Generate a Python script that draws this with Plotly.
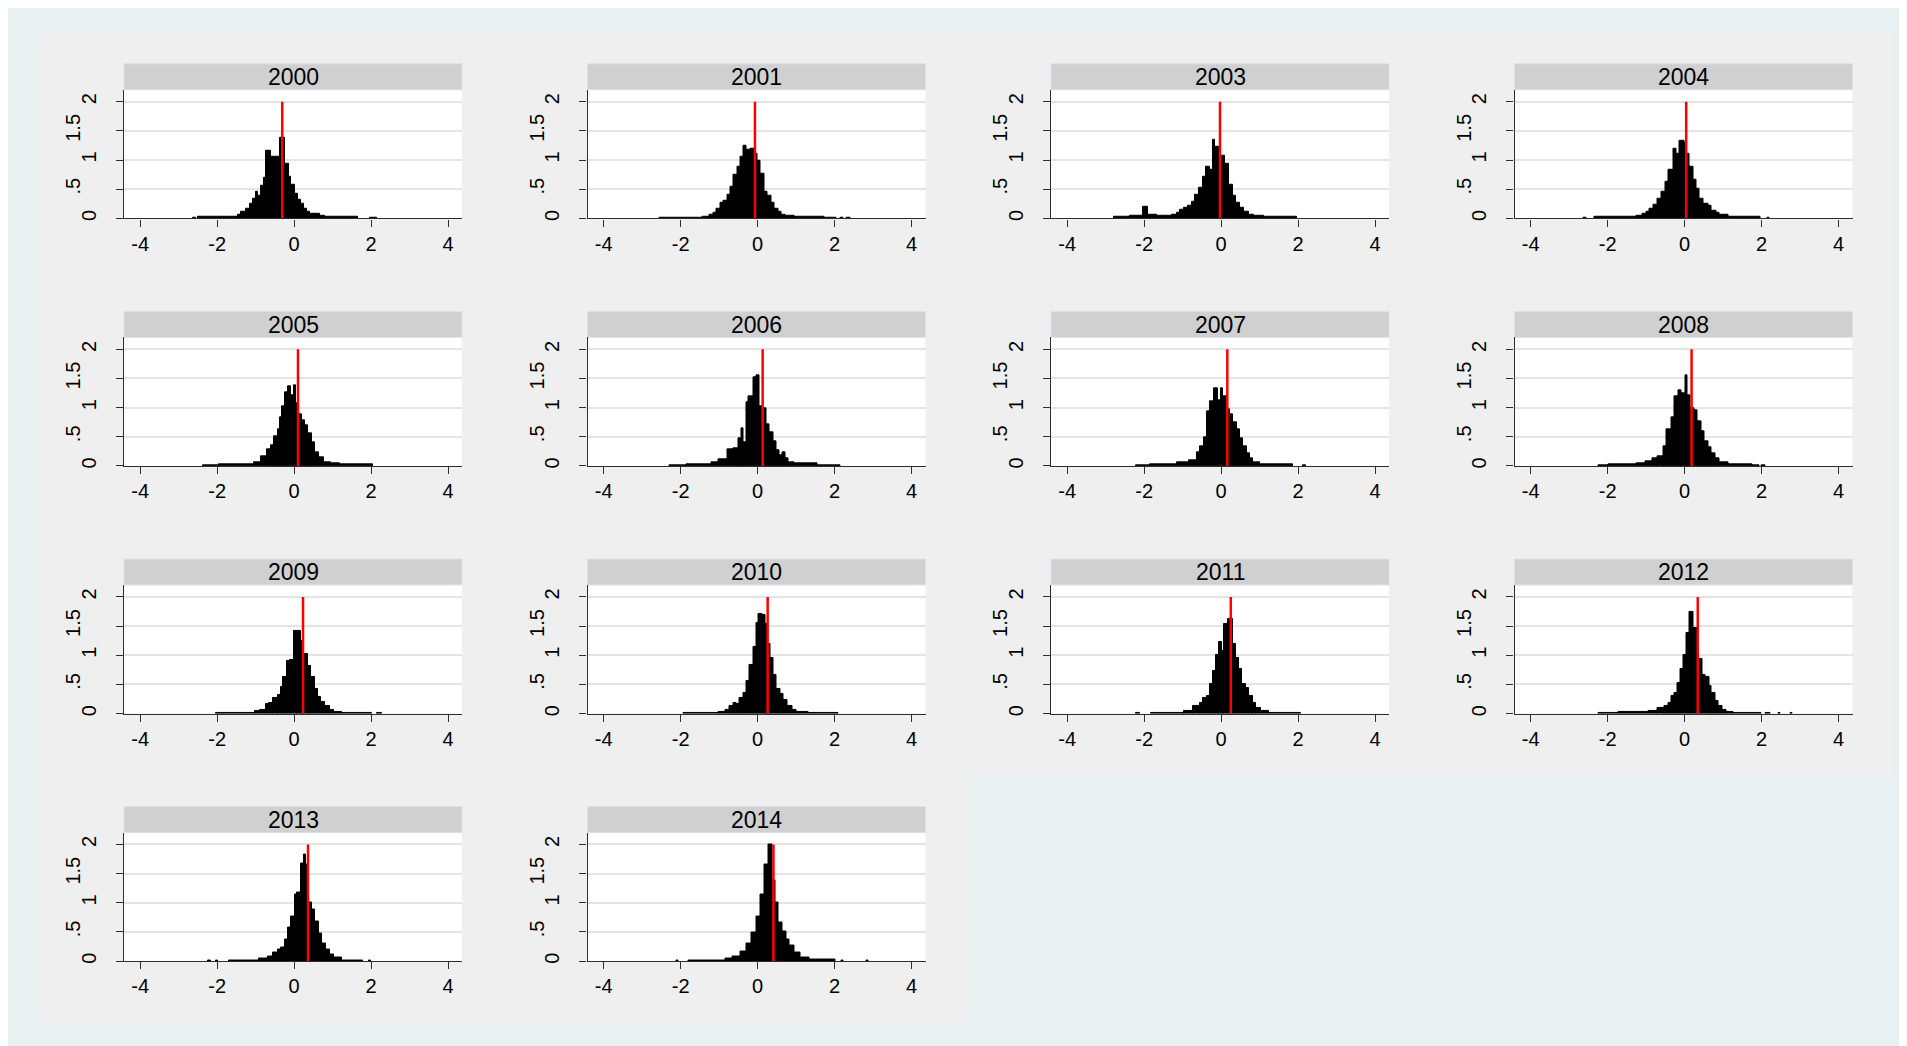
import plotly.graph_objects as go

# ---------------- data ----------------
years = ["2000", "2001", "2003", "2004", "2005", "2006", "2007",
         "2008", "2009", "2010", "2011", "2012", "2013", "2014"]

# histogram bins: (left edge, right edge, density)
bins_2000 = [(-2.62, -2.55, 0.012), (-2.49, -1.67, 0.02), (-1.67, -1.45, 0.03), (-1.45, -1.37, 0.06),
             (-1.37, -1.24, 0.11), (-1.24, -1.15, 0.17), (-1.15, -1.06, 0.25), (-1.06, -1.00, 0.33),
             (-1.00, -0.93, 0.45), (-0.93, -0.85, 0.38), (-0.85, -0.78, 0.56), (-0.78, -0.72, 0.69),
             (-0.72, -0.59, 1.16), (-0.59, -0.37, 1.05), (-0.37, -0.23, 1.39), (-0.23, -0.14, 0.93),
             (-0.14, -0.07, 0.72), (-0.07, 0.02, 0.57), (0.02, 0.09, 0.43), (0.09, 0.17, 0.32),
             (0.17, 0.25, 0.25), (0.25, 0.34, 0.17), (0.34, 0.42, 0.12), (0.42, 0.67, 0.085),
             (0.67, 0.80, 0.05), (0.80, 1.66, 0.02), (1.98, 2.14, 0.012)]
bins_2001 = [(-2.54, -1.44, 0.015), (-1.44, -1.26, 0.03), (-1.26, -1.14, 0.06), (-1.14, -1.06, 0.10),
             (-1.06, -0.96, 0.17), (-0.96, -0.88, 0.26), (-0.88, -0.78, 0.30), (-0.78, -0.70, 0.40),
             (-0.70, -0.62, 0.55), (-0.62, -0.53, 0.75), (-0.53, -0.45, 0.89), (-0.45, -0.36, 1.06),
             (-0.36, -0.28, 1.24), (-0.28, -0.18, 1.17), (-0.18, -0.08, 1.19), (-0.08, 0.00, 1.10),
             (0.00, 0.08, 0.99), (0.08, 0.18, 0.76), (0.18, 0.26, 0.45), (0.26, 0.36, 0.38),
             (0.36, 0.44, 0.26), (0.44, 0.54, 0.17), (0.54, 0.62, 0.11), (0.62, 0.72, 0.07),
             (0.72, 0.96, 0.045), (0.96, 1.74, 0.02), (1.74, 2.05, 0.012), (2.15, 2.22, 0.01),
             (2.32, 2.42, 0.01)]
bins_2003 = [(-2.78, -2.37, 0.02), (-2.37, -2.04, 0.045), (-2.04, -1.90, 0.20), (-1.90, -1.67, 0.06),
             (-1.67, -1.28, 0.05), (-1.28, -1.15, 0.07), (-1.15, -1.06, 0.10), (-1.06, -0.97, 0.14),
             (-0.97, -0.87, 0.18), (-0.87, -0.76, 0.22), (-0.76, -0.67, 0.29), (-0.67, -0.57, 0.41),
             (-0.57, -0.48, 0.53), (-0.48, -0.39, 0.72), (-0.39, -0.30, 0.89), (-0.30, -0.22, 0.83),
             (-0.22, -0.15, 1.34), (-0.15, -0.06, 1.22), (-0.06, 0.03, 0.83), (0.03, 0.11, 1.07),
             (0.11, 0.20, 0.93), (0.20, 0.30, 0.58), (0.30, 0.39, 0.39), (0.39, 0.48, 0.26),
             (0.48, 0.59, 0.19), (0.59, 0.72, 0.12), (0.72, 0.85, 0.07), (0.85, 1.11, 0.045),
             (1.11, 1.98, 0.02)]
bins_2004 = [(-2.62, -2.56, 0.012), (-2.35, -1.26, 0.02), (-1.26, -1.09, 0.05), (-1.09, -1.00, 0.08),
             (-1.00, -0.91, 0.11), (-0.91, -0.81, 0.17), (-0.81, -0.71, 0.23), (-0.71, -0.61, 0.33),
             (-0.61, -0.50, 0.45), (-0.50, -0.41, 0.62), (-0.41, -0.30, 0.83), (-0.30, -0.22, 1.20),
             (-0.22, -0.13, 1.11), (-0.13, -0.01, 1.33), (-0.01, 0.04, 1.30), (0.04, 0.13, 1.11),
             (0.13, 0.22, 0.88), (0.22, 0.30, 0.67), (0.30, 0.39, 0.51), (0.39, 0.50, 0.33),
             (0.50, 0.61, 0.25), (0.61, 0.71, 0.21), (0.71, 0.83, 0.13), (0.83, 0.91, 0.10),
             (0.91, 1.13, 0.06), (1.13, 1.97, 0.02), (2.14, 2.20, 0.012)]
bins_2005 = [(-2.36, -1.94, 0.015), (-1.94, -1.04, 0.03), (-1.04, -0.86, 0.07), (-0.86, -0.70, 0.17),
             (-0.70, -0.61, 0.28), (-0.61, -0.52, 0.36), (-0.52, -0.43, 0.51), (-0.43, -0.37, 0.63),
             (-0.37, -0.31, 0.83), (-0.31, -0.23, 1.03), (-0.23, -0.16, 1.27), (-0.16, -0.07, 1.36),
             (-0.07, 0.00, 1.21), (0.00, 0.06, 1.38), (0.06, 0.11, 1.07), (0.11, 0.20, 0.88),
             (0.20, 0.29, 0.79), (0.29, 0.37, 0.70), (0.37, 0.47, 0.56), (0.47, 0.55, 0.40),
             (0.55, 0.65, 0.23), (0.65, 0.77, 0.15), (0.77, 0.95, 0.07), (0.95, 1.19, 0.045),
             (1.19, 2.04, 0.02)]
bins_2006 = [(-2.30, -1.86, 0.015), (-1.86, -1.20, 0.025), (-1.20, -1.02, 0.06), (-1.02, -0.78, 0.11),
             (-0.78, -0.62, 0.28), (-0.62, -0.50, 0.30), (-0.50, -0.42, 0.47), (-0.42, -0.36, 0.64),
             (-0.36, -0.30, 0.40), (-0.30, -0.24, 1.09), (-0.24, -0.12, 1.20), (-0.12, -0.04, 1.52),
             (-0.04, 0.06, 1.55), (0.06, 0.14, 1.02), (0.14, 0.24, 0.99), (0.24, 0.32, 0.72),
             (0.32, 0.40, 0.57), (0.40, 0.48, 0.43), (0.48, 0.56, 0.27), (0.56, 0.64, 0.19),
             (0.64, 0.72, 0.23), (0.72, 0.80, 0.13), (0.80, 0.96, 0.07), (0.96, 1.56, 0.04),
             (1.56, 2.16, 0.015)]
bins_2007 = [(-2.22, -1.86, 0.015), (-1.86, -1.14, 0.025), (-1.14, -0.84, 0.06), (-0.84, -0.64, 0.10),
             (-0.64, -0.54, 0.23), (-0.54, -0.44, 0.33), (-0.44, -0.36, 0.49), (-0.36, -0.28, 0.93),
             (-0.28, -0.18, 1.10), (-0.18, -0.08, 1.33), (-0.08, 0.00, 1.13), (0.00, 0.06, 1.33),
             (0.06, 0.14, 1.19), (0.14, 0.24, 0.97), (0.24, 0.32, 0.88), (0.32, 0.40, 0.74),
             (0.40, 0.48, 0.62), (0.48, 0.58, 0.47), (0.58, 0.66, 0.33), (0.66, 0.74, 0.22),
             (0.74, 0.84, 0.13), (0.84, 1.02, 0.07), (1.02, 1.86, 0.03), (2.12, 2.20, 0.01)]
bins_2008 = [(-2.23, -1.97, 0.015), (-1.97, -1.25, 0.025), (-1.25, -1.01, 0.045), (-1.01, -0.83, 0.075),
             (-0.83, -0.71, 0.13), (-0.71, -0.55, 0.17), (-0.55, -0.47, 0.33), (-0.47, -0.35, 0.62),
             (-0.35, -0.26, 0.84), (-0.26, -0.17, 1.19), (-0.17, -0.07, 1.29), (-0.07, 0.01, 1.24),
             (0.01, 0.07, 1.56), (0.07, 0.16, 1.21), (0.16, 0.25, 0.99), (0.25, 0.34, 0.96),
             (0.34, 0.43, 0.76), (0.43, 0.52, 0.59), (0.52, 0.61, 0.42), (0.61, 0.70, 0.32),
             (0.70, 0.79, 0.22), (0.79, 0.91, 0.13), (0.91, 1.15, 0.07), (1.15, 1.75, 0.03),
             (1.75, 1.95, 0.015), (2.00, 2.10, 0.012)]
bins_2009 = [(-2.03, -1.03, 0.017), (-1.03, -0.88, 0.04), (-0.88, -0.73, 0.07), (-0.73, -0.65, 0.17),
             (-0.65, -0.55, 0.18), (-0.55, -0.43, 0.27), (-0.43, -0.35, 0.32), (-0.35, -0.28, 0.46),
             (-0.28, -0.19, 0.63), (-0.19, -0.11, 0.90), (-0.11, -0.01, 0.92), (-0.01, 0.07, 1.41),
             (0.07, 0.17, 1.41), (0.17, 0.25, 1.24), (0.25, 0.35, 1.03), (0.35, 0.43, 0.81),
             (0.43, 0.53, 0.63), (0.53, 0.61, 0.43), (0.61, 0.71, 0.28), (0.71, 0.80, 0.20),
             (0.80, 0.92, 0.13), (0.92, 1.04, 0.07), (1.04, 1.25, 0.035), (1.25, 2.03, 0.017),
             (2.15, 2.27, 0.01)]
bins_2010 = [(-1.92, -1.02, 0.017), (-1.02, -0.84, 0.035), (-0.84, -0.72, 0.07), (-0.72, -0.62, 0.13),
             (-0.62, -0.54, 0.19), (-0.54, -0.46, 0.17), (-0.46, -0.36, 0.26), (-0.36, -0.28, 0.36),
             (-0.28, -0.20, 0.56), (-0.20, -0.12, 0.84), (-0.12, -0.04, 1.15), (-0.04, 0.02, 1.56),
             (0.02, 0.12, 1.70), (0.12, 0.20, 1.69), (0.20, 0.26, 1.53), (0.26, 0.34, 1.19),
             (0.34, 0.42, 0.96), (0.42, 0.50, 0.67), (0.50, 0.60, 0.43), (0.60, 0.68, 0.34),
             (0.68, 0.78, 0.23), (0.78, 0.90, 0.13), (0.90, 1.02, 0.07), (1.02, 1.32, 0.035),
             (1.32, 2.10, 0.017)]
bins_2011 = [(-2.22, -2.10, 0.01), (-1.81, -0.97, 0.017), (-0.97, -0.73, 0.045), (-0.73, -0.56, 0.13),
             (-0.56, -0.46, 0.19), (-0.46, -0.37, 0.27), (-0.37, -0.29, 0.30), (-0.29, -0.22, 0.50),
             (-0.22, -0.13, 0.73), (-0.13, -0.05, 1.01), (-0.05, 0.02, 1.23), (0.02, 0.08, 1.08),
             (0.08, 0.17, 1.53), (0.17, 0.31, 1.62), (0.31, 0.38, 1.20), (0.38, 0.47, 0.96),
             (0.47, 0.55, 0.76), (0.55, 0.65, 0.50), (0.65, 0.73, 0.44), (0.73, 0.83, 0.30),
             (0.83, 0.91, 0.19), (0.91, 1.03, 0.10), (1.03, 1.25, 0.045), (1.25, 2.08, 0.017)]
bins_2012 = [(-2.23, -1.73, 0.015), (-1.73, -0.95, 0.023), (-0.95, -0.71, 0.045), (-0.71, -0.53, 0.10),
             (-0.53, -0.43, 0.13), (-0.43, -0.35, 0.19), (-0.35, -0.26, 0.30), (-0.26, -0.19, 0.36),
             (-0.19, -0.11, 0.53), (-0.11, -0.02, 0.76), (-0.02, 0.05, 1.01), (0.05, 0.13, 1.38),
             (0.13, 0.22, 1.75), (0.22, 0.37, 1.47), (0.37, 0.46, 0.93), (0.46, 0.55, 0.67),
             (0.55, 0.64, 0.63), (0.64, 0.71, 0.47), (0.71, 0.79, 0.36), (0.79, 0.88, 0.22),
             (0.88, 0.97, 0.13), (0.97, 1.09, 0.07), (1.09, 1.27, 0.035), (1.27, 1.99, 0.017),
             (2.10, 2.22, 0.01), (2.44, 2.50, 0.01), (2.74, 2.80, 0.01)]
bins_2013 = [(-2.23, -2.17, 0.01), (-2.03, -1.97, 0.01), (-1.70, -0.92, 0.017), (-0.92, -0.67, 0.04),
             (-0.67, -0.55, 0.085), (-0.55, -0.43, 0.14), (-0.43, -0.35, 0.20), (-0.35, -0.25, 0.23),
             (-0.25, -0.17, 0.37), (-0.17, -0.07, 0.57), (-0.07, 0.01, 0.77), (0.01, 0.08, 1.14),
             (0.08, 0.17, 1.17), (0.17, 0.25, 1.68), (0.25, 0.32, 1.82), (0.32, 0.37, 1.65),
             (0.37, 0.47, 1.01), (0.47, 0.55, 0.88), (0.55, 0.65, 0.68), (0.65, 0.73, 0.48),
             (0.73, 0.83, 0.31), (0.83, 0.92, 0.20), (0.92, 1.04, 0.11), (1.04, 1.25, 0.06),
             (1.25, 1.79, 0.017), (1.94, 2.00, 0.01)]
bins_2014 = [(-2.12, -2.06, 0.01), (-1.80, -0.84, 0.018), (-0.84, -0.66, 0.04), (-0.66, -0.45, 0.08),
             (-0.45, -0.30, 0.17), (-0.30, -0.15, 0.31), (-0.15, -0.02, 0.49), (-0.02, 0.08, 0.77),
             (0.08, 0.18, 1.14), (0.18, 0.28, 1.66), (0.28, 0.38, 2.00), (0.38, 0.46, 1.39),
             (0.46, 0.55, 1.00), (0.55, 0.64, 0.66), (0.64, 0.74, 0.51), (0.74, 0.84, 0.37),
             (0.84, 0.96, 0.26), (0.96, 1.12, 0.15), (1.12, 1.34, 0.06), (1.34, 2.03, 0.02),
             (2.17, 2.23, 0.01), (2.83, 2.89, 0.01)]

all_bins = [bins_2000, bins_2001, bins_2003, bins_2004, bins_2005, bins_2006, bins_2007,
            bins_2008, bins_2009, bins_2010, bins_2011, bins_2012, bins_2013, bins_2014]

# red reference line (mean) for each year
means = [-0.31, -0.07, -0.03, 0.04, 0.10, 0.13, 0.16, 0.18, 0.23, 0.26, 0.25, 0.34, 0.36, 0.41]
mean_line_top = 2.0

x_ticks = [-4, -2, 0, 2, 4]
x_tick_labels = ["-4", "-2", "0", "2", "4"]
y_ticks = [0, 0.5, 1, 1.5, 2]
# y labels alternate between a near and a far position
y_ticks_near = [0, 1, 2]
y_labels_near = ["0", "1", "2"]
y_ticks_far = [0.5, 1.5]
y_labels_far = [".5", "1.5"]
x_range = [-4.42, 4.36]
y_range = [0, 2.205]

# ---------------- layout geometry (figure pixels) ----------------
W, H = 1907, 1046
GRID_L, GRID_T = 32, 25
CELL_W, CELL_H = 463.5, 248.3
PLOT_DX, PLOT_W = 84, 338
TITLE_DY, TITLE_H = 31, 26
PLOT_TOP_DY, PLOT_BOT_DY = 57, 186

FONT = "Liberation Sans, Arial, sans-serif"
OUTER_BG = "#E8F0F2"
CELL_BG = "#EFEFEF"
STRIP_BG = "#D0D0D0"
AXIS_COL = "#2E2E2E"
N = len(years)


def fx(px):
    return px / W


def fy(py):
    return 1 - py / H


fig = go.Figure()
shapes = []
annotations = []
layout_axes = {}
tick_font = dict(family=FONT, size=20, color="black")

for i, (yr, bins, m) in enumerate(zip(years, all_bins, means)):
    r, c = divmod(i, 4)
    cl = GRID_L + CELL_W * c
    ct = GRID_T + CELL_H * r
    pl, pr = cl + PLOT_DX, cl + PLOT_DX + PLOT_W
    pt, pb = ct + PLOT_TOP_DY, ct + PLOT_BOT_DY
    tt = ct + TITLE_DY

    # cell background
    shapes.append(dict(type="rect", xref="paper", yref="paper", layer="below",
                       x0=fx(cl), x1=fx(cl + CELL_W), y0=fy(ct + CELL_H), y1=fy(ct),
                       fillcolor=CELL_BG, line=dict(width=0)))
    # white plot region
    shapes.append(dict(type="rect", xref="paper", yref="paper", layer="below",
                       x0=fx(pl), x1=fx(pr), y0=fy(pb), y1=fy(pt),
                       fillcolor="white", line=dict(width=0)))
    # title strip
    shapes.append(dict(type="rect", xref="paper", yref="paper", layer="below",
                       x0=fx(pl), x1=fx(pr), y0=fy(tt + TITLE_H), y1=fy(tt),
                       fillcolor=STRIP_BG, line=dict(color="#D6E4EA", width=1)))
    annotations.append(dict(text=yr, xref="paper", yref="paper", showarrow=False,
                            x=fx((pl + pr) / 2), y=fy(tt + TITLE_H / 2 + 0.5),
                            xanchor="center", yanchor="middle",
                            font=dict(family=FONT, size=23, color="black")))

    s = "" if i == 0 else str(i + 1)
    s_far = str(N + i + 1)
    layout_axes["xaxis" + s] = dict(
        domain=[fx(pl), fx(pr)], anchor="y" + s, range=x_range,
        tickmode="array", tickvals=x_ticks, ticktext=x_tick_labels,
        ticks="outside", ticklen=7, tickwidth=1.2, tickcolor=AXIS_COL,
        showline=True, linecolor=AXIS_COL, linewidth=1.3,
        showgrid=False, zeroline=False, ticklabelstandoff=0,
        tickfont=tick_font, fixedrange=True)
    layout_axes["yaxis" + s] = dict(
        domain=[fy(pb), fy(pt)], anchor="x" + s, range=y_range,
        tickmode="array", tickvals=y_ticks,
        ticktext=[y_labels_near[y_ticks_near.index(t)] if t in y_ticks_near else "" for t in y_ticks],
        tickangle=-90,
        ticks="outside", ticklen=7, tickwidth=1.2, tickcolor=AXIS_COL,
        showline=True, linecolor=AXIS_COL, linewidth=1.3,
        showgrid=True, gridcolor="#E4E4E4", gridwidth=1.6, zeroline=False,
        ticklabelstandoff=12, tickfont=tick_font, fixedrange=True)
    # second (overlaying) y axis carrying the far labels
    layout_axes["yaxis" + s_far] = dict(
        overlaying="y" + s, anchor="x" + s, side="left", range=y_range,
        tickmode="array", tickvals=y_ticks_far, ticktext=y_labels_far, tickangle=-90,
        ticks="", showline=False, showgrid=False, zeroline=False,
        ticklabelstandoff=39, tickfont=tick_font, fixedrange=True)

    centers = [(a + b) / 2 for a, b, _ in bins]
    widths = [b - a for a, b, _ in bins]
    dens = [h for _, _, h in bins]
    fig.add_trace(go.Bar(x=centers, y=dens, width=widths, base=0,
                         xaxis="x" + s, yaxis="y" + s,
                         marker=dict(color="black", line=dict(color="black", width=1)),
                         showlegend=False, hoverinfo="skip"))
    fig.add_trace(go.Scatter(x=[m, m], y=[0, mean_line_top], mode="lines",
                             xaxis="x" + s, yaxis="y" + s,
                             line=dict(color="#FF0000", width=2.5),
                             showlegend=False, hoverinfo="skip"))
    fig.add_trace(go.Scatter(x=[None], y=[None], mode="markers",
                             xaxis="x" + s, yaxis="y" + s_far,
                             showlegend=False, hoverinfo="skip"))

fig.update_layout(
    width=W, height=H, autosize=False,
    margin=dict(l=0, r=0, t=0, b=0, pad=0),
    paper_bgcolor=OUTER_BG, plot_bgcolor="rgba(0,0,0,0)",
    shapes=shapes, annotations=annotations,
    bargap=0, showlegend=False,
    font=dict(family=FONT, color="black"),
    **layout_axes)

fig.write_html("out.html")
